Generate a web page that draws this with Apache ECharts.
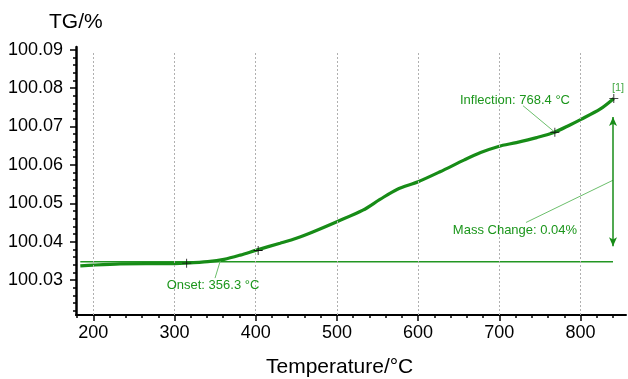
<!DOCTYPE html>
<html>
<head>
<meta charset="utf-8">
<script src="https://cdn.jsdelivr.net/npm/echarts@6/dist/echarts.min.js"></script>
<style>
html,body{margin:0;padding:0;background:#fff;}
#chart{width:628px;height:379px;}
</style>
</head>
<body>
<div id="chart"></div>
<script>
// ---- data ----
var temps = [184, 200, 233, 265, 300, 314, 341, 361, 381, 401, 430, 450, 471, 500, 532, 553, 574, 600, 627, 657, 677, 699, 721, 746, 768, 787, 800, 824, 841];
var tg = [100.0337, 100.0339, 100.0342, 100.0343, 100.0343, 100.0344, 100.0348, 100.0354, 100.0365, 100.0378, 100.0396, 100.0409, 100.0426, 100.0452, 100.0482, 100.0510, 100.0536, 100.0556, 100.0582, 100.0613, 100.0632, 100.0648, 100.0658, 100.0671, 100.0685, 100.0704, 100.0718, 100.0745, 100.0773];
var xTicks = [200, 300, 400, 500, 600, 700, 800];
var yTicks = [100.03, 100.04, 100.05, 100.06, 100.07, 100.08, 100.09];
var markerT = [315, 403, 768.4, 841];
var markerV = [100.0344, 100.0377, 100.0685, 100.0773];
var baselineT = [184, 840];
var baselineV = [100.0348, 100.0348];
var arrowT = 840;
var arrowV = [100.0388, 100.0725];
var annoText = ['Onset: 356.3 \u00B0C', 'Inflection: 768.4 \u00B0C', 'Mass Change: 0.04%', '[1]'];
var annoT = [347.4, 719.3, 719.3, 846.2];
var annoV = [100.0287, 100.0767, 100.0430, 100.0800];
var leaderFrom = [[349.9, 100.0305], [729.2, 100.0754], [732.9, 100.0450]];
var leaderTo = [[356.3, 100.03495], [768.4, 100.0685], [840, 100.0560]];

var xMin = 178.7, xMax = 856, yMin = 100.0209, yMax = 100.0907;

// minor tick positions (axis decoration)
var xMinor = [];
for (var t = 180; t <= 850; t += 20) { if (t % 100 !== 0) xMinor.push(t); }
var yMinor = [];
for (var k = 11; k <= 45; k++) { if (k % 5 !== 0) yMinor.push(+(100 + k * 0.002).toFixed(3)); }

var FONT = 'Liberation Sans, Arial, Helvetica, sans-serif';
var GREEN = '#178c17';
var TXT = '#1c961c';
var LIGHT = '#6cbf6c';

var curve = temps.map(function (t, i) { return [t, tg[i]]; });
var markers = markerT.map(function (t, i) { return [t, markerV[i]]; });
var baseline = baselineT.map(function (t, i) { return [t, baselineV[i]]; });
var annos = annoText.map(function (s, i) {
  return {
    name: s, value: [annoT[i], annoV[i]],
    label: { fontSize: i === 3 ? 11 : 13, color: i === 3 ? '#45a845' : TXT }
  };
});
var leaders = leaderFrom.map(function (p, i) { return [{ coord: p }, { coord: leaderTo[i] }]; });

var chart = echarts.init(document.getElementById('chart'), null, { renderer: 'canvas' });
chart.setOption({
  animation: false,
  backgroundColor: '#fff',
  textStyle: { fontFamily: FONT },
  title: [
    { text: 'TG/%', left: 49, top: 12, padding: 0, textStyle: { fontSize: 21, fontWeight: 'normal', color: '#000', fontFamily: FONT } },
    { text: 'Temperature/\u00B0C', left: 266, top: 357, padding: 0, textStyle: { fontSize: 21, fontWeight: 'normal', color: '#000', fontFamily: FONT } }
  ],
  grid: { left: 76, right: 2, top: 47, bottom: 64, containLabel: false },
  xAxis: [
    {
      type: 'value', min: xMin, max: xMax, position: 'bottom',
      axisLine: { onZero: false, lineStyle: { color: '#000', width: 2 } },
      axisTick: { show: true, customValues: xTicks, length: 6, lineStyle: { color: '#000', width: 1.5 } },
      axisLabel: { customValues: xTicks, fontSize: 18, color: '#000', margin: 9, fontFamily: FONT },
      splitLine: { show: false }
    },
    {
      type: 'value', min: xMin, max: xMax, position: 'bottom',
      axisLine: { show: false, onZero: false },
      axisTick: { show: true, customValues: xMinor, length: 3, lineStyle: { color: '#000', width: 1.5 } },
      axisLabel: { show: false },
      splitLine: { show: false }
    }
  ],
  yAxis: [
    {
      type: 'value', min: yMin, max: yMax, position: 'left',
      axisLine: { show: true, onZero: false, lineStyle: { color: '#000', width: 2.5 } },
      axisTick: { show: true, customValues: yTicks, length: 6, lineStyle: { color: '#000', width: 1.5 } },
      axisLabel: { customValues: yTicks, fontSize: 18, color: '#000', margin: 13, fontFamily: FONT,
        formatter: function (v) { return v.toFixed(2); } },
      splitLine: { show: false }
    },
    {
      type: 'value', min: yMin, max: yMax, position: 'left',
      axisLine: { show: false, onZero: false },
      axisTick: { show: true, customValues: yMinor, length: 3, lineStyle: { color: '#000', width: 1.5 } },
      axisLabel: { show: false },
      splitLine: { show: false }
    }
  ],
  series: [
    {
      name: 'baseline', type: 'line', data: baseline, symbol: 'none', z: 2,
      lineStyle: { color: '#229622', width: 1.5 },
      markLine: {
        silent: true, symbol: 'none', animation: false,
        label: { show: false },
        lineStyle: { color: '#b0b0b0', width: 1, type: [2, 2] },
        data: xTicks.map(function (v) { return [{ coord: [v, yMin] }, { coord: [v, 100.0893] }]; })
      }
    },
    {
      name: 'TG', type: 'line', data: curve, symbol: 'none', smooth: 0.3, z: 3,
      lineStyle: { color: GREEN, width: 3.2 }
    },
    {
      name: 'markers', type: 'scatter', data: markers, z: 5,
      symbol: 'path://M-0.09,-1H0.09V-0.09H1V0.09H0.09V1H-0.09V0.09H-1V-0.09H-0.09Z',
      symbolSize: 9, itemStyle: { color: '#111', opacity: 1 }
    },
    {
      name: 'annotations', type: 'scatter', data: annos, symbolSize: 0, z: 6,
      itemStyle: { opacity: 1 },
      label: { show: true, position: 'inside', formatter: '{b}', fontFamily: FONT },
      markLine: {
        silent: true, symbol: 'none', animation: false,
        label: { show: false },
        lineStyle: { color: LIGHT, width: 1, type: 'solid', opacity: 1 },
        data: leaders
      }
    },
    {
      name: 'arrow', type: 'line', data: [], symbol: 'none', z: 4,
      markLine: {
        silent: true, symbol: ['arrow', 'arrow'], symbolSize: [6, 9], animation: false,
        label: { show: false },
        lineStyle: { color: GREEN, width: 1.5, type: 'solid', opacity: 1 },
        data: [[{ coord: [arrowT, arrowV[0]] }, { coord: [arrowT, arrowV[1]] }]]
      }
    }
  ]
});
</script>
</body>
</html>
